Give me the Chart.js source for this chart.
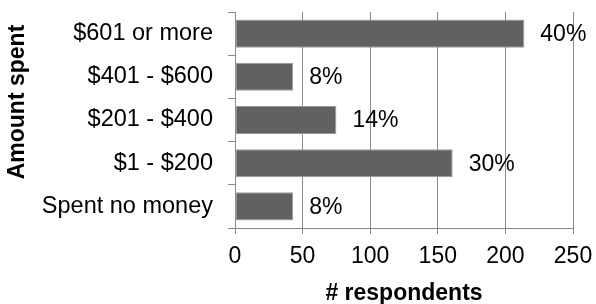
<!DOCTYPE html>
<html>
<head>
<meta charset="utf-8">
<script src="https://cdn.jsdelivr.net/npm/chart.js@4"></script>
<style>
  html, body { margin: 0; padding: 0; background: #fff; }
  #wrap { width: 596px; height: 304px; position: relative; }
</style>
</head>
<body>
<div id="wrap"><canvas id="chart"></canvas></div>
<script>
'use strict';

// Data
const categories = ['$601 or more', '$401 - $600', '$201 - $400', '$1 - $200', 'Spent no money'];
const respondents = [214, 43, 75, 161, 43];
const shareLabels = ['40%', '8%', '14%', '30%', '8%'];
const xTicks = [0, 50, 100, 150, 200, 250];

const COLORS = {
  bar:    '#616161',
  barEdge:'#9a9a9a',
  grid:   '#8a8a8a',
  text:   '#000000',
};
const FONT = 'Arial, "Liberation Sans", sans-serif';

Chart.defaults.font.family = FONT;
Chart.defaults.color = COLORS.text;

/** Percentage labels to the right of each bar */
const shareLabelPlugin = {
  id: 'shareLabels',
  afterDatasetsDraw(chart) {
    const { ctx } = chart;
    const meta = chart.getDatasetMeta(0);
    ctx.save();
    ctx.font = '23px ' + FONT;
    ctx.fillStyle = COLORS.text;
    ctx.textAlign = 'left';
    ctx.textBaseline = 'middle';
    meta.data.forEach((bar, i) => {
      ctx.fillText(shareLabels[i], bar.x + 16, bar.y + 1);
    });
    ctx.restore();
  },
};

/** Rotated y-axis title, sitting a bit above the axis middle like the original */
const yTitlePlugin = {
  id: 'yTitle',
  afterDraw(chart) {
    const { ctx } = chart;
    ctx.save();
    ctx.translate(18, 102);
    ctx.rotate(-Math.PI / 2);
    ctx.font = 'bold 23px ' + FONT;
    ctx.fillStyle = COLORS.text;
    ctx.textAlign = 'center';
    ctx.textBaseline = 'middle';
    ctx.fillText('Amount spent', 0, 0);
    ctx.restore();
  },
};

// keep the plot box where the original has it: 235..573 x 12..228
function noTickPadding(scale) {
  scale.paddingTop = 0;
  scale.paddingBottom = 0;
  scale.paddingLeft = 0;
  scale.paddingRight = 0;
}

new Chart(document.getElementById('chart'), {
  type: 'bar',
  data: {
    labels: categories,
    datasets: [{
      data: respondents,
      backgroundColor: COLORS.bar,
      borderColor: COLORS.barEdge,
      borderWidth: 1,
      borderSkipped: false,
      barPercentage: 0.65,
      categoryPercentage: 1,
    }],
  },
  options: {
    indexAxis: 'y',
    responsive: true,
    maintainAspectRatio: false,
    animation: false,
    layout: { padding: { top: 12, right: 23, left: 0, bottom: 0 } },
    plugins: {
      legend: { display: false },
      tooltip: { enabled: false },
    },
    scales: {
      x: {
        min: 0,
        max: 250,
        afterBuildTicks: (scale) => { scale.ticks = xTicks.map((v) => ({ value: v })); },
        afterFit: (scale) => { scale.height = 76; noTickPadding(scale); },
        grid: { color: COLORS.grid, tickLength: 6, drawTicks: true },
        border: { color: COLORS.grid },
        ticks: { font: { size: 23 }, padding: 9, color: COLORS.text, maxRotation: 0 },
        title: {
          display: true,
          text: '# respondents',
          font: { size: 23, weight: 'bold', lineHeight: 0.9 },
          padding: { top: 0, bottom: 0 },
          color: COLORS.text,
        },
      },
      y: {
        afterFit: (scale) => { scale.width = 235; noTickPadding(scale); },
        grid: { color: COLORS.grid, drawOnChartArea: false, drawTicks: true, tickLength: 7, offset: true },
        border: { color: COLORS.grid },
        ticks: { font: { size: 23.5 }, padding: 15, color: COLORS.text },
      },
    },
  },
  plugins: [shareLabelPlugin, yTitlePlugin],
});
</script>
</body>
</html>
